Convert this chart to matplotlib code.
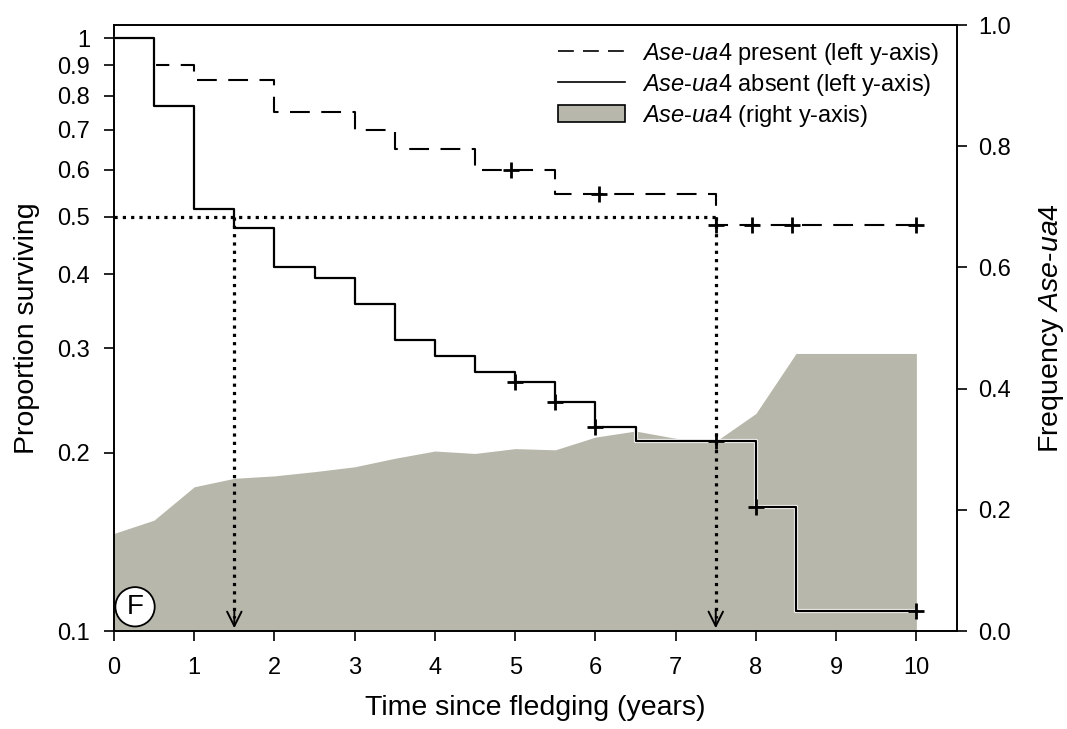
import matplotlib
matplotlib.use("Agg")
import matplotlib.pyplot as plt
import matplotlib.patheffects as pe
from matplotlib.lines import Line2D
from matplotlib.patches import Patch
import numpy as np

plt.rcParams['font.family'] = ['Liberation Sans', 'DejaVu Sans']
plt.rcParams['mathtext.fontset'] = 'custom'
plt.rcParams['mathtext.it'] = 'Liberation Sans:italic'
plt.rcParams['mathtext.rm'] = 'Liberation Sans'

# Kaplan-Meier steps, Ase-ua4 present
present_t = [0, 0.5, 1.0, 2.0, 3.0, 3.5, 4.5, 5.5, 7.5, 10.0]
present_s = [1.0, 0.90, 0.85, 0.75, 0.70, 0.65, 0.60, 0.545, 0.483, 0.483]
present_cens = [4.95, 6.05, 7.5, 7.95, 8.45, 10.0]

# Kaplan-Meier steps, Ase-ua4 absent
absent_t = [0, 0.5, 1.0, 1.5, 2.0, 2.5, 3.0, 3.5, 4.0, 4.5, 5.0, 5.5, 6.0, 6.5, 8.0, 8.5, 10.0]
absent_s = [1.0, 0.768, 0.514, 0.478, 0.411, 0.394, 0.356, 0.310, 0.291, 0.273,
            0.263, 0.243, 0.221, 0.209, 0.162, 0.108, 0.108]
absent_cens = [5.0, 5.5, 6.0, 7.5, 8.0, 10.0]

# allele frequency (right axis)
freq_t = [0, 0.5, 1.0, 1.5, 2.0, 2.5, 3.0, 3.5, 4.0, 4.5, 5.0, 5.5, 6.0, 6.5,
          7.0, 7.5, 8.0, 8.5, 9.0, 9.5, 10.0]
freq = [0.161, 0.183, 0.238, 0.252, 0.256, 0.263, 0.271, 0.285, 0.297, 0.293,
        0.301, 0.299, 0.320, 0.330, 0.318, 0.313, 0.359, 0.458, 0.458, 0.458, 0.458]

median_absent = 1.5
median_present = 7.5
half = 0.5

left_ticks = [0.1, 0.2, 0.3, 0.4, 0.5, 0.6, 0.7, 0.8, 0.9, 1.0]
left_labels = ['0.1', '0.2', '0.3', '0.4', '0.5', '0.6', '0.7', '0.8', '0.9', '1']
right_ticks = [0.0, 0.2, 0.4, 0.6, 0.8, 1.0]
x_ticks = list(range(0, 11))


def step_value(times, surv, t):
    i = np.searchsorted(times, t, side='right') - 1
    return surv[i]


fig = plt.figure(figsize=(10.67, 7.29), dpi=100)
ax = fig.add_axes([0.1068, 0.1344, 0.7904, 0.8313])
ax2 = ax.twinx()
ax.set_zorder(ax2.get_zorder() + 1)
ax.patch.set_visible(False)

grey = '#b8b7ab'
ax2.fill_between(freq_t, 0, freq, color=grey, lw=0)
ax2.set_ylim(0, 1.0)
ax2.set_yticks(right_ticks)
ax2.set_yticklabels(['%.1f' % v for v in right_ticks])

ax.step(present_t, present_s, where='post', color='black', lw=1.5, dashes=(9.5, 5.5))
ax.step(absent_t, absent_s, where='post', color='black', lw=1.6,
        path_effects=[pe.withStroke(linewidth=3.0, foreground='white')])

ax.plot(present_cens, [step_value(present_t, present_s, c) for c in present_cens],
        ls='none', marker='+', ms=11, mew=2, color='black')
ax.plot(absent_cens, [step_value(absent_t, absent_s, c) for c in absent_cens],
        ls='none', marker='+', ms=11, mew=2, color='black')

# medians
dot = dict(color='black', lw=2.3, linestyle=(0, (1, 1.6)))
ax.plot([0, median_present], [half, half], **dot)
for m in (median_absent, median_present):
    ax.plot([m, m], [half, 0.105], **dot)
    ax.annotate('', xy=(m, 0.1), xytext=(m, 0.11),
                arrowprops=dict(arrowstyle='->', color='black', lw=1.4,
                                mutation_scale=26))

ax.set_yscale('log')
ax.set_ylim(0.1, 1.052)
ax.set_xlim(0, 10.51)
ax.set_yticks(left_ticks)
ax.set_yticklabels(left_labels)
ax.yaxis.set_minor_locator(matplotlib.ticker.NullLocator())
ax.set_xticks(x_ticks)

for a in (ax, ax2):
    for s in a.spines.values():
        s.set_linewidth(1.2)
    a.tick_params(direction='out', length=7, width=1.2, labelsize=17)
ax.tick_params(axis='y', pad=10)
ax.tick_params(axis='x', pad=12)
ax2.tick_params(axis='y', pad=8)

ax.set_xlabel('Time since fledging (years)', fontsize=20.5)
ax.set_ylabel('Proportion surviving', fontsize=20.5)
ax2.set_ylabel(r'Frequency $\mathit{Ase}$-$\mathit{ua4}$', fontsize=20.5)
ax.xaxis.set_label_coords(0.5, -0.105)
ax.yaxis.set_label_coords(-0.088, 0.5)
ax2.yaxis.set_label_coords(1.094, 0.5)

ax.text(0.025, 0.040, 'F', transform=ax.transAxes, fontsize=20, ha='center', va='center',
        bbox=dict(boxstyle='circle,pad=0.24', fc='white', ec='black', lw=1.3))

handles = [Line2D([], [], color='black', lw=1.2, dashes=(9.5, 5.5)),
           Line2D([], [], color='black', lw=1.2),
           Patch(facecolor=grey, edgecolor='black', lw=1.2)]
labels = [r'$\mathit{Ase}$-$\mathit{ua4}$ present (left y-axis)',
          r'$\mathit{Ase}$-$\mathit{ua4}$ absent (left y-axis)',
          r'$\mathit{Ase}$-$\mathit{ua4}$ (right y-axis)']
ax.legend(handles, labels, loc='upper right', bbox_to_anchor=(0.99, 0.99),
          borderaxespad=0, frameon=False, fontsize=17, handlelength=2.85,
          handletextpad=0.72, labelspacing=0.22)

fig.savefig('out.png', dpi=100)
